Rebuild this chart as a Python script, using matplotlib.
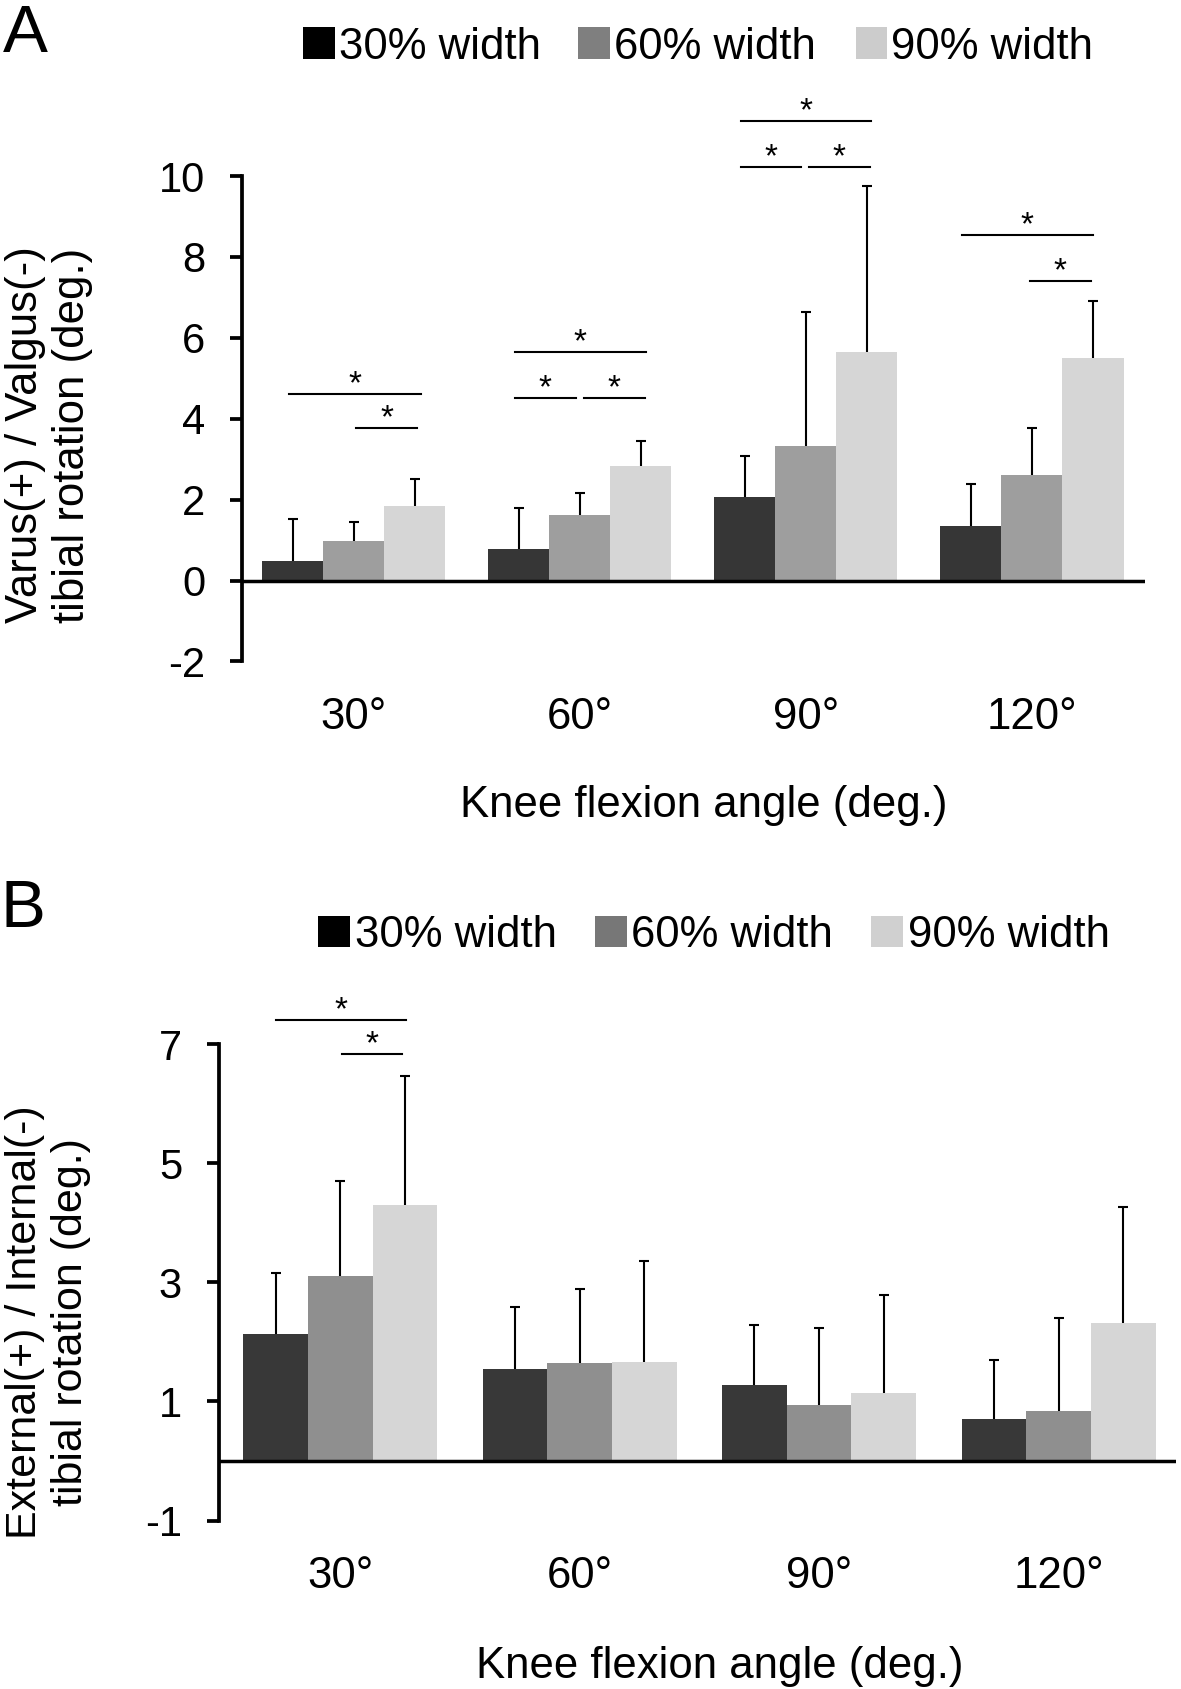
import numpy as np
import matplotlib
matplotlib.use("Agg")
import matplotlib.pyplot as plt
from matplotlib.patches import Rectangle

plt.rcParams['font.family'] = ['Liberation Sans', 'DejaVu Sans']
plt.rcParams['axes.unicode_minus'] = False

W, H = 1181, 1689

angles = ['30°', '60°', '90°', '120°']
widths = ['30% width', '60% width', '90% width']

# Panel A: varus(+)/valgus(-) tibial rotation, mean and SD (deg.)
a_mean_30 = [0.49, 0.79, 2.07, 1.35]
a_sd_30 = [1.02, 1.01, 1.01, 1.04]
a_mean_60 = [0.98, 1.61, 3.32, 2.61]
a_sd_60 = [0.46, 0.55, 3.33, 1.16]
a_mean_90 = [1.85, 2.84, 5.64, 5.51]
a_sd_90 = [0.66, 0.62, 4.11, 1.41]

# Panel B: external(+)/internal(-) tibial rotation
b_mean_30 = [2.14, 1.55, 1.27, 0.70]
b_sd_30 = [1.01, 1.03, 1.02, 1.00]
b_mean_60 = [3.10, 1.64, 0.94, 0.84]
b_sd_60 = [1.60, 1.24, 1.29, 1.56]
b_mean_90 = [4.30, 1.67, 1.14, 2.32]
b_sd_90 = [2.17, 1.68, 1.64, 1.94]

# significance bars: group, x-span (offset from group centre), height
a_sig_group = [0, 0, 1, 1, 1, 2, 2, 2, 3, 3]
a_sig_x0 = [-0.285, 0.01, -0.288, -0.288, 0.017, -0.289, -0.289, 0.014, -0.31, -0.01]
a_sig_x1 = [0.295, 0.281, 0.291, -0.019, 0.287, 0.288, -0.022, 0.282, 0.27, 0.26]
a_sig_y = [4.60, 3.76, 5.64, 4.52, 4.52, 11.35, 10.22, 10.22, 8.54, 7.41]

b_sig_group = [0, 0]
b_sig_x0 = [-0.27, 0.007]
b_sig_x1 = [0.276, 0.26]
b_sig_y = [7.40, 6.84]

FS = 31.5
bar_w = 0.27
offsets = [-bar_w, 0, bar_w]


def draw_panel(ax, means, sds, colors, ylim, yticks, ytick_fs, sig_g, sig_x0, sig_x1, sig_y):
    x = np.arange(len(angles))
    for i in range(3):
        xs = x + offsets[i]
        ax.bar(xs, means[i], width=bar_w, color=colors[i], zorder=2)
        eb = ax.errorbar(xs, means[i], yerr=[np.zeros(len(x)), sds[i]], fmt='none',
                         ecolor='black', elinewidth=1.5, capsize=3.6, capthick=1.5, zorder=3)
        # only the upper half of each error bar is drawn
        eb[1][0].set_visible(False)
    ax.axhline(0, color='black', lw=2.5, zorder=4)

    for g, x0, x1, y in zip(sig_g, sig_x0, sig_x1, sig_y):
        ax.plot([g + x0, g + x1], [y, y], color='black', lw=1.5, clip_on=False)
        ax.annotate('*', xy=(g + (x0 + x1) / 2, y), xytext=(0, 0.5), textcoords='offset points',
                    ha='center', va='baseline', fontsize=24, annotation_clip=False)

    ax.set_ylim(*ylim)
    ax.set_yticks(yticks)
    ax.set_xticks(x)
    ax.set_xticklabels(angles)
    for s in ['top', 'right', 'bottom']:
        ax.spines[s].set_visible(False)
    ax.spines['left'].set_linewidth(2.7)
    ax.tick_params(axis='y', length=8.6, width=2.7, labelsize=ytick_fs, pad=18)
    ax.tick_params(axis='x', length=0, labelsize=FS, pad=25.7)


fig = plt.figure(figsize=(W / 100, H / 100), dpi=100)

# ---- panel A
axA = fig.add_axes([242 / W, 1 - 661.4 / H, (1145 - 242) / W, (661.4 - 176) / H])
draw_panel(axA, [a_mean_30, a_mean_60, a_mean_90], [a_sd_30, a_sd_60, a_sd_90],
           ['#363636', '#9e9e9e', '#d6d6d6'], (-2, 10), [-2, 0, 2, 4, 6, 8, 10], 30,
           a_sig_group, a_sig_x0, a_sig_x1, a_sig_y)
axA.set_xlim(-0.495, 3.5)

# ---- panel B
axB = fig.add_axes([219 / W, 1 - 1520.6 / H, (1176 - 219) / W, (1520.6 - 1044) / H])
draw_panel(axB, [b_mean_30, b_mean_60, b_mean_90], [b_sd_30, b_sd_60, b_sd_90],
           ['#383838', '#8f8f8f', '#d6d6d6'], (-1, 7), [-1, 1, 3, 5, 7], 30,
           b_sig_group, b_sig_x0, b_sig_x1, b_sig_y)
axB.set_xlim(-0.506, 3.49)

# axis titles
fig.text(704 / W, 1 - 816.7 / H, 'Knee flexion angle (deg.)', ha='center', va='baseline', fontsize=FS)
fig.text(720 / W, 1 - 1678 / H, 'Knee flexion angle (deg.)', ha='center', va='baseline', fontsize=FS)
fig.text(49 / W, 1 - 435 / H, 'Varus(+) / Valgus(-)\ntibial rotation (deg.)', rotation=90,
         ha='center', va='center', multialignment='center', fontsize=FS)
fig.text(48 / W, 1 - 1322 / H, 'External(+) / Internal(-)\ntibial rotation (deg.)', rotation=90,
         ha='center', va='center', multialignment='center', fontsize=31)

# panel letters
fig.text(3 / W, 1 - 51.7 / H, 'A', ha='left', va='baseline', fontsize=48.5)
fig.text(0, 1 - 927 / H, 'B', ha='left', va='baseline', fontsize=48.5)

# legends (drawn by hand to match the original layout)
legA_patch_x = [303, 578.4, 855.6]
legA_text_x = [338.5, 614, 891.3]
legA_colors = ['#000000', '#7f7f7f', '#cccccc']
for px, tx, c, lab in zip(legA_patch_x, legA_text_x, legA_colors, widths):
    fig.add_artist(Rectangle((px / W, 1 - 59.3 / H), 31.6 / W, 32 / H, transform=fig.transFigure,
                             color=c, lw=0))
    fig.text(tx / W, 1 - 59.3 / H, lab, ha='left', va='baseline', fontsize=FS)

legB_patch_x = [318.4, 595, 871.2]
legB_text_x = [354.7, 631.3, 907.7]
legB_colors = ['#000000', '#777777', '#d0d0d0']
for px, tx, c, lab in zip(legB_patch_x, legB_text_x, legB_colors, widths):
    fig.add_artist(Rectangle((px / W, 1 - 947.3 / H), 32 / W, 31.3 / H, transform=fig.transFigure,
                             color=c, lw=0))
    fig.text(tx / W, 1 - 947.3 / H, lab, ha='left', va='baseline', fontsize=FS)

fig.savefig('out.png', dpi=100)
